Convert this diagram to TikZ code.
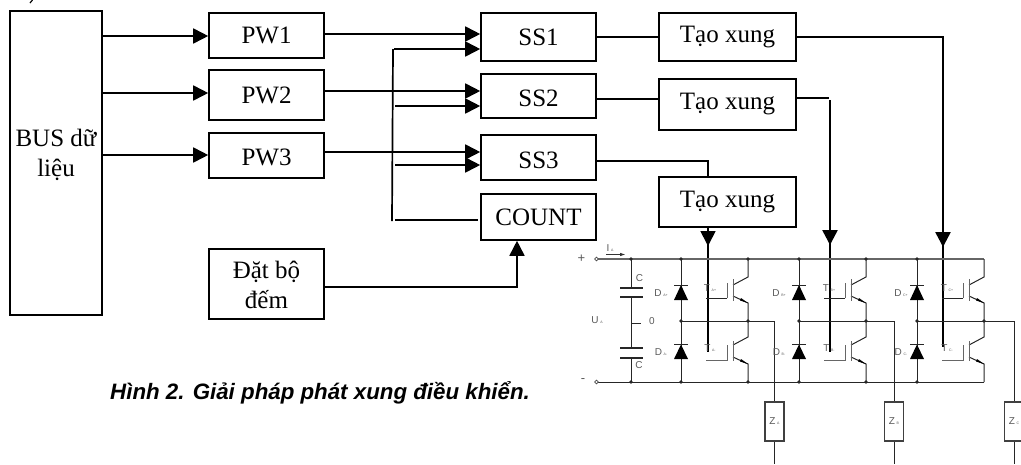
\documentclass[tikz,border=0pt]{standalone}
\usepackage{fontspec}
\setmainfont{Liberation Serif}
\newfontfamily\arialf{Liberation Sans}
\usetikzlibrary{arrows.meta}
\tikzset{
  box/.style={draw=black,line width=1.6pt,fill=white,inner sep=0pt,align=center,font=\fontsize{25}{30}\selectfont},
  link/.style={draw=black,line width=1.7pt},
  arr/.style={link,-{Triangle[length=15pt,width=15pt]}},
  drive/.style={draw=black,line width=1.8pt},
  wire/.style={draw=black!85,line width=1pt},
  rail/.style={draw=black!60,line width=1.4pt},
  dot/.style={circle,fill=black!85,draw=none,inner sep=0pt,minimum size=3.6pt},
  term/.style={circle,fill=white,draw=black!70,line width=.7pt,inner sep=0pt,minimum size=3.6pt},
  small/.style={text=black!65,inner sep=0pt,font=\arialf\fontsize{10}{10}\selectfont},
  zbox/.style={draw=black!75,line width=1.1pt,fill=white,inner sep=0pt,minimum width=19pt,minimum height=39pt,text=black!65,font=\arialf\fontsize{10}{10}\selectfont},
}
\newcommand{\sbs}[1]{\,{\fontsize{3.5}{4}\selectfont #1}}
% move the text of a node up or down inside its box by padding the opposite side
\newcommand{\txtup}[2]{\raisebox{0pt}[\height][\dimexpr\depth+#1*2\relax]{#2}}
\newcommand{\txtdown}[2]{\raisebox{0pt}[\dimexpr\height+#1*2\relax][\depth]{#2}}
\begin{document}
\begin{tikzpicture}[x=1pt,y=-1pt]
\useasboundingbox (0,0) rectangle (1021,464);
\clip (0,0) rectangle (1021,464);
% blocks
\node[box,minimum width=92pt,minimum height=304pt] (bus) at (56,163) {\txtup{8pt}{\begin{tabular}{@{}c@{}}BUS dữ\\liệu\end{tabular}}};
\node[box,minimum width=115pt,minimum height=45pt] (pw1) at (266.5,35.5) {PW1};
\node[box,minimum width=115pt,minimum height=50pt] (pw2) at (266.5,95) {PW2};
\node[box,minimum width=115pt,minimum height=45pt] (pw3) at (266.5,155.5) {\txtdown{1.5pt}{PW3}};
\node[box,minimum width=115pt,minimum height=70pt] (dat) at (266.5,284) {\txtdown{3.5pt}{\begin{tabular}{@{}c@{}}Đặt bộ\\đếm\end{tabular}}};
\node[box,minimum width=115pt,minimum height=48pt] (ss1) at (538.5,37) {SS1};
\node[box,minimum width=115pt,minimum height=44pt] (ss2) at (538.5,96) {\txtdown{2pt}{SS2}};
\node[box,minimum width=115pt,minimum height=45pt] (ss3) at (538.5,157.5) {\txtdown{2.5pt}{SS3}};
\node[box,minimum width=115pt,minimum height=46pt] (count) at (538.5,217) {COUNT};
\node[box,minimum width=137pt,minimum height=48pt] (tx1) at (727.5,37) {Tạo xung};
\node[box,minimum width=137pt,minimum height=51pt] (tx2) at (727.5,104.5) {Tạo xung};
\node[box,minimum width=137pt,minimum height=50pt] (tx3) at (727.5,202) {Tạo xung};
% bus to PW
\draw[arr] (bus.east |- 0,36) -- (pw1.west |- 0,36);
\draw[arr] (bus.east |- 0,93) -- (pw2.west |- 0,93);
\draw[arr] (bus.east |- 0,155) -- (pw3.west |- 0,155);
% PW to SS
\draw[arr] (pw1.east |- 0,34) -- (ss1.west |- 0,34);
\draw[arr] (pw2.east |- 0,91) -- (ss2.west |- 0,91);
\draw[arr] (pw3.east |- 0,152) -- (ss3.west |- 0,152);
% count bus
\coordinate (cb1) at (394,49);
\coordinate (cb2) at (395,106);
\coordinate (cb3) at (395,165);
\coordinate (cbt) at (393,49);
\coordinate (cbb) at (392,221);
\coordinate (cbc) at (395,220);
\draw[link] (cbt) -- (cbb);
\draw[arr] (cb1) -- (ss1.west |- cb1);
\draw[arr] (cb2) -- (ss2.west |- cb2);
\draw[arr] (cb3) -- (ss3.west |- cb3);
\coordinate (ccr) at (478,220);
\draw[link] (cbc) -- (ccr);
% preset to count
\draw[arr] (dat.east |- 0,287) -| (count.south -| 517,0);
% SS to pulse
\draw[link] (ss1.east |- 0,37) -- (tx1.west |- 0,37);
\draw[link] (ss2.east |- 0,99) -- (tx2.west |- 0,99);
\draw[link] (ss3.east |- 0,161) -| (tx3.north -| 708,0);
% drive lines
\coordinate (d1) at (708,246);
\coordinate (d2a) at (829,98);
\coordinate (d2) at (830,245);
\coordinate (d3a) at (943.5,37);
\coordinate (d3) at (943,247);
\draw[arr] (tx3.south -| d1) -- (d1);
\draw[link] (tx2.east |- d2a) -- (d2a);
\draw[drive] (830,100) -- (830,198);
\draw[arr,line width=2.6pt] (830,198) -- (d2);
\draw[link] (tx1.east |- d3a) -- (d3a);
\draw[drive] (943,37) -- (943,200);
\draw[arr,line width=2.6pt] (943,200) -- (d3);
\draw[drive] (708,240) -- (708,352);
\draw[drive] (830,240) -- (830,352);
\draw[drive] (943,240) -- (943,347);
% rails
\coordinate (tp) at (596.5,259);
\coordinate (tm) at (596.5,382);
\coordinate (tr) at (984,259);
\coordinate (br) at (984,382);
\draw[rail] (tp) -- (tr);
\draw[wire] (tm) -- (br);
\node[term] at (tp) {};
\node[term] at (tm) {};
\node[small,font=\arialf\fontsize{13}{13}\selectfont] (plus) at (581.5,259) {+};
\node[small,font=\arialf\fontsize{13}{13}\selectfont] (minus) at (583,381) {-};
\node[small] (ia) at (610,248) {I\sbs{A}};
\coordinate (ia1) at (606,254.5);
\coordinate (ia2) at (625,254.5);
\draw[draw=black!80,line width=.8pt,-{Triangle[length=5pt,width=3pt]}] (ia1) -- (ia2);
% capacitors
\coordinate (cn) at (631,259);
\coordinate (cs) at (631,382);
\draw[wire] (cn) -- (631,288);
\draw[wire] (631,297) -- (631,348);
\draw[wire] (631,358) -- (cs);
\draw[wire,line width=1.2pt] (620,288) -- (643,288);
\draw[wire,line width=1.2pt] (620,297) -- (643,297);
\draw[wire,line width=1.2pt] (620,348) -- (643,348);
\draw[wire,line width=1.2pt] (620,358) -- (643,358);
\draw[wire] (631,323) -- (641,323);
\node[dot] at (cn) {};
\node[dot] at (cs) {};
\node[small] (c1) at (639.5,278.5) {C};
\node[small] (c2) at (639,365) {C};
\node[small] (ua) at (597,320) {U\sbs{A}};
\node[small] (zero) at (652,321) {0};
% bridge legs
\foreach \xd/\xc/\xz/\xt/\L/\xl in {681/748/774.5/710/A/661, 799/866/894/829/B/779, 917/984/1014/947/C/901}{
  \coordinate (dn) at (\xd,259);
  \coordinate (dm) at (\xd,321);
  \coordinate (ds) at (\xd,382);
  \draw[wire] (dn) -- (ds);
  \fill[black] (\xd,285) -- (\xd-7,300) -- (\xd+7,300) -- cycle;
  \fill[black] (\xd,344.5) -- (\xd-7,359) -- (\xd+7,359) -- cycle;
  \draw[wire] (\xd-7,285) -- (\xd+7,285);
  \draw[wire] (\xd-7,344.5) -- (\xd+7,344.5);
  \node[dot] at (dn) {};
  \node[dot] at (dm) {};
  \node[dot] at (ds) {};
  \node[small] at (\xl,293) {D\sbs{\L+}};
  \node[small] at (\xl,352) {D\sbs{\L-}};
  % transistors
  \draw[wire] (\xc,259) -- (\xc,277) -- (\xc-15,285);
  \draw[wire] (\xc-15,296) -- (\xc,303) -- (\xc,337) -- (\xc-15,345);
  \draw[wire] (\xc-15,357) -- (\xc,364) -- (\xc,382);
  \fill[black] (\xc,303) -- (\xc-7,298) -- (\xc-8,300.5) -- cycle;
  \fill[black] (\xc,364) -- (\xc-7,359) -- (\xc-8,361.5) -- cycle;
  \draw[wire,draw=black!60] (\xc-15,279) -- (\xc-15,301);
  \draw[wire,draw=black!60] (\xc-15,341) -- (\xc-15,361);
  \draw[wire,draw=black!60] (\xc-21,283) -- (\xc-21,298);
  \draw[wire] (\xc-21,298) -- (\xc-42,298);
  \draw[wire,draw=black!60] (\xc-21,345) -- (\xc-21,360) -- (\xc-42,360);
  \node[small] at (\xt,288) {T\sbs{\L+}};
  \node[small] at (\xt,348) {T\sbs{\L-}};
  \ifnum\xc<984
    \node[dot] at (\xc,259) {};
    \node[dot] at (\xc,382) {};
  \fi
  \node[dot] at (\xc,321) {};
  % load
  \node[zbox] (load) at (\xz,421.5) {Z\sbs{\L}};
  \coordinate (lt) at (\xz,321);
  \coordinate (lb) at (\xz,464);
  \draw[wire] (dm) -- (lt) -- (load.north);
  \draw[wire] (load.south) -- (lb);
}
% tick at the top edge
\coordinate (ta) at (32.5,0);
\coordinate (tb) at (30,3);
\draw[line width=1.2pt] (ta) -- (tb);
% caption
\node[anchor=west,inner sep=0pt,font=\arialf\fontsize{22.3}{24}\selectfont\bfseries\itshape] (cap) at (110,392.5) {Hình 2. Giải pháp phát xung điều khiển.};
\end{tikzpicture}
\end{document}
